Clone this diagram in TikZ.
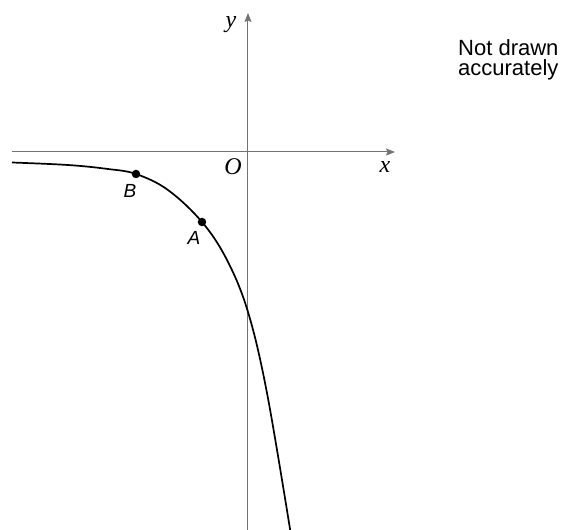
\documentclass[tikz,border=0pt]{standalone}
\usepackage{fontspec}
\usepackage{tikz}
\usetikzlibrary{arrows.meta,positioning,calc}
\newfontfamily\figsans{Liberation Sans}
\newfontfamily\figserif{Liberation Serif}
\definecolor{axisgrey}{RGB}{115,115,115}

\begin{document}
\begin{tikzpicture}[x=1pt,y=1pt,
  axisline/.style={axisgrey,line width=1pt,-{Stealth[length=9pt,width=7pt,inset=1.5pt]}},
  ptdot/.style={circle,fill=black,inner sep=0pt,minimum size=8.5pt},
  varlab/.style={anchor=base,inner sep=0pt,font=\fontsize{24}{24}\figserif\itshape},
  ptlab/.style={anchor=base,inner sep=0pt,font=\fontsize{19}{19}\figsans\itshape},
  notelab/.style={anchor=north west,inner sep=0pt,align=left,font=\fontsize{22}{20}\figsans}]
  \useasboundingbox (-248,-378) rectangle (318,152);
  % axes
  \coordinate (xs) at (-236,0); \coordinate (xe) at (147,0);
  \coordinate (ys) at (0,-380); \coordinate (ye) at (0,139);
  \draw[axisline] (xs) -- (xe);
  \draw[axisline] (ys) -- (ye);
  \node[varlab] (xlab) at (137,-21) {x};
  \node[varlab] (ylab) at (-17,124) {y};
  \node[varlab] (olab) at (-15,-23) {O};
  % curve
  \draw[line width=1.7pt] plot[smooth,tension=0.6] coordinates
    {(-236,-10.5) (-180,-13) (-140,-17) (-112,-22) (-80,-38) (-46,-70)
     (-21,-108) (0,-160) (19,-241) (42.5,-380)};
  \node[ptdot] (B) at (-112,-22) {};
  \node[ptdot] (A) at (-46,-70) {};
  \node[ptlab] (Blab) at (-118,-46) {B};
  \node[ptlab] (Alab) at (-54,-93) {A};
  % note
  \node[notelab] (note) at (210,113) {Not drawn\\accurately};
\end{tikzpicture}
\end{document}
